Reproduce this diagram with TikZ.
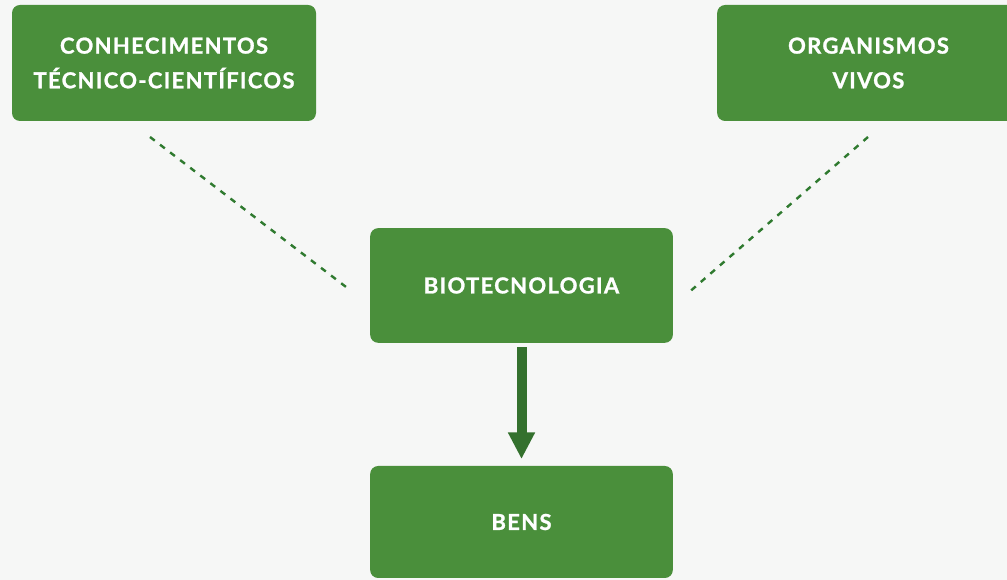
\documentclass[tikz,border=0pt]{standalone}
\usepackage{fontspec}
\setmainfont{Lato}[LetterSpace=6,BoldFeatures={FakeBold=1.2}]
\usetikzlibrary{arrows.meta}
\definecolor{boxgreen}{HTML}{4A8F3B}
\definecolor{arrowgreen}{HTML}{34712E}
\definecolor{dashgreen}{HTML}{2F7A2F}
\definecolor{bg}{HTML}{F6F7F6}
\begin{document}
\begin{tikzpicture}[x=0.75pt,y=-0.75pt,
  greenbox/.style={fill=boxgreen,rounded corners=6pt,text=white,align=center,
    font=\fontsize{16.5}{26}\selectfont\bfseries,inner sep=0pt},
  dashline/.style={draw=dashgreen,line width=1.8pt,dash pattern=on 4.5pt off 5pt},
  bigarrow/.style={draw=arrowgreen,line width=7.5pt,-{Triangle[width=19pt,length=20pt]}}]
\useasboundingbox (0,0) rectangle (1007,580);
\fill[bg] (0,0) rectangle (1007,580);
\clip (0,0) rectangle (1007,580);
\node[greenbox,minimum width=228pt,minimum height=87pt] (ctc) at (164,63) {CONHECIMENTOS\\TÉCNICO-CIENTÍFICOS};
\node[greenbox,minimum width=227pt,minimum height=87pt] (org) at (868.5,63) {ORGANISMOS\\VIVOS};
\node[greenbox,minimum width=227pt,minimum height=86pt] (bio) at (521.5,285.5) {BIOTECNOLOGIA};
\node[greenbox,minimum width=227pt,minimum height=84pt] (bens) at (521.5,522) {BENS};
\coordinate (l1) at (150,137);
\coordinate (l2) at (350,290);
\coordinate (r1) at (868,137);
\coordinate (r2) at (687,294);
\draw[dashline] (l1) -- (l2);
\draw[dashline] (r1) -- (r2);
\draw[bigarrow,shorten <=3pt,shorten >=5pt] (bio.south) -- (bens.north);
\end{tikzpicture}
\end{document}
